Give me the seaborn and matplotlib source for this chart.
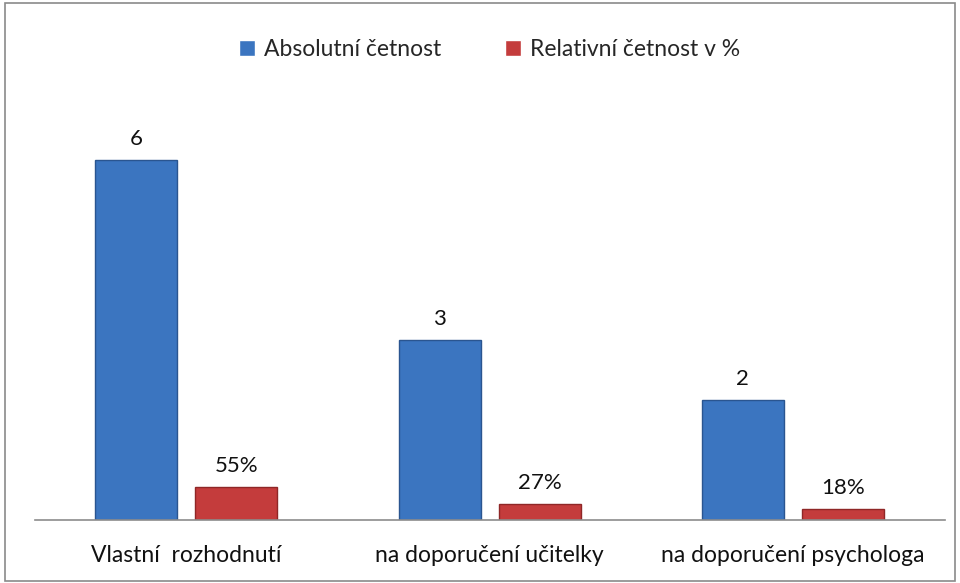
import pandas as pd
import matplotlib.pyplot as plt
import seaborn as sns
from matplotlib.patches import Rectangle

# data
kategorie = ['Vlastní  rozhodnutí', 'na doporučení učitelky', 'na doporučení psychologa']
absolutni = [6, 3, 2]
relativni = [0.55, 0.27, 0.18]
serie = ['Absolutní četnost', 'Relativní četnost v %']
barvy = ['#3b75c0', '#c43c3c']
okraje = ['#2a5590', '#8f2727']

df = pd.DataFrame({
    'kategorie': kategorie * 2,
    'hodnota': absolutni + relativni,
    'serie': [serie[0]] * 3 + [serie[1]] * 3,
})

sns.set_style('white')
plt.rcParams['font.family'] = ['Lato', 'DejaVu Sans']

fig = plt.figure(figsize=(9.6, 5.83), dpi=100)
ax = fig.add_axes([0.036, 0.108, 0.948, 0.72])

sns.barplot(data=df, x='kategorie', y='hodnota', hue='serie', palette=barvy,
            width=0.66, gap=0.18, ax=ax, saturation=1)

# darker edges on bars
for cont, ec in zip(ax.containers, okraje):
    for b in cont:
        b.set_edgecolor(ec)
        b.set_linewidth(1.0)

# value labels
ax.bar_label(ax.containers[0], labels=[str(v) for v in absolutni],
             padding=8, fontsize=16, color='#111111')
ax.bar_label(ax.containers[1], labels=[f'{v * 100:.0f}%' for v in relativni],
             padding=8, fontsize=16, color='#111111')

ax.set_ylim(0, 7)
ax.set_xlim(-0.5, 2.5)
ax.set_xlabel('')
ax.set_ylabel('')
ax.set_yticks([])
ax.tick_params(axis='x', length=0, labelsize=16.5, pad=18, colors='#111111')
for s in ['top', 'right', 'left']:
    ax.spines[s].set_visible(False)
ax.spines['bottom'].set_color('#8c8c8c')
ax.spines['bottom'].set_linewidth(1.2)

ax.legend(loc='center', bbox_to_anchor=(0.5, 1.12), ncol=2, frameon=False,
          fontsize=16.5, handlelength=0.7, handleheight=0.7, handletextpad=0.4,
          columnspacing=2.8)

# outer chart border
fig.patches.append(Rectangle((0.005, 0.004), 0.99, 0.99, transform=fig.transFigure,
                             fill=False, edgecolor='#8a8a8a', linewidth=1.2))

fig.savefig('out.png', dpi=100)
